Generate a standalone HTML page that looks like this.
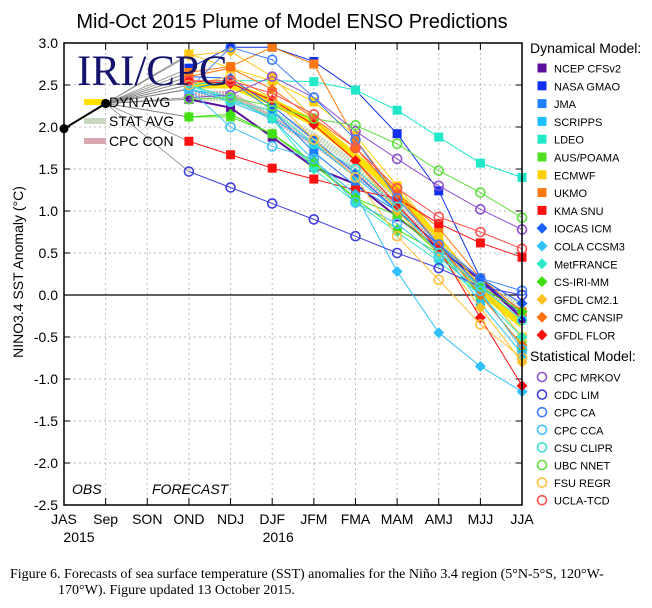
<!DOCTYPE html>
<html><head><meta charset="utf-8"><style>
body{margin:0;background:#fff;width:652px;height:608px;overflow:hidden}
svg{display:block}
text{font-family:"Liberation Sans",sans-serif}
</style></head><body>
<svg id="s" width="652" height="608" xmlns="http://www.w3.org/2000/svg">
<text x="292" y="28" font-size="20" text-anchor="middle">Mid-Oct 2015 Plume of Model ENSO Predictions</text>
<g id="grid"></g>
<g id="lines"></g>
<text x="77" y="85" font-size="43" fill="#14146e" style="font-family:'Liberation Serif',serif">IRI/CPC</text>
<g id="ileg"></g>
<g id="obs"></g>
<rect x="64" y="43" width="458" height="462" fill="none" stroke="#000" stroke-width="1.5"/>
<text x="72" y="494" font-size="14" font-style="italic">OBS</text>
<text x="152" y="494" font-size="14" font-style="italic">FORECAST</text>
<text transform="translate(23,272) rotate(-90)" font-size="14" text-anchor="middle">NINO3.4 SST Anomaly (°C)</text>
<g id="leg"></g>
<text x="10" y="578" font-size="14" style="font-family:'Liberation Serif',serif">Figure 6. Forecasts of sea surface temperature (SST) anomalies for the Niño 3.4 region (5°N-5°S, 120°W-</text>
<text x="58" y="594" font-size="14" style="font-family:'Liberation Serif',serif">170°W). Figure updated 13 October 2015.</text>
</svg>
<script>
const NS="http://www.w3.org/2000/svg";
function el(p,t,a,txt){const e=document.createElementNS(NS,t);for(const k in a)e.setAttribute(k,a[k]);if(txt!==undefined)e.textContent=txt;document.getElementById(p).appendChild(e);return e;}
const X=i=>64+41.64*i, Y=v=>295-84*v;
for(let i=1;i<11;i++){el("grid","line",{x1:X(i),x2:X(i),y1:43,y2:505,stroke:"#bbb","stroke-dasharray":"2,3"});}
for(let v=-2.5;v<=3.0;v+=0.5){const y=Y(v);
 if(Math.abs(v)>1e-6&&v>-2.4&&v<2.9)el("grid","line",{x1:64,x2:522,y1:y,y2:y,stroke:"#bbb","stroke-dasharray":"2,3"});
 el("grid","line",{x1:64,x2:70,y1:y,y2:y,stroke:"#000"});el("grid","line",{x1:516,x2:522,y1:y,y2:y,stroke:"#000"});
 el("grid","text",{x:58,y:y+5,"font-size":14,"text-anchor":"end"},(v<0?"-":"")+Math.abs(v).toFixed(1));}
el("grid","line",{x1:64,x2:522,y1:Y(0),y2:Y(0),stroke:"#000","stroke-width":1.3});
const mons=["JAS","Sep","SON","OND","NDJ","DJF","JFM","FMA","MAM","AMJ","MJJ","JJA"];
mons.forEach((m,i)=>{el("grid","line",{x1:X(i),x2:X(i),y1:43,y2:50,stroke:"#000"});el("grid","line",{x1:X(i),x2:X(i),y1:498,y2:505,stroke:"#000"});
 el("grid","text",{x:X(i),y:524,"font-size":14,"text-anchor":"middle"},m);});
el("grid","text",{x:X(0)+15,y:542,"font-size":14,"text-anchor":"middle"},"2015");
el("grid","text",{x:X(5)+6,y:542,"font-size":14,"text-anchor":"middle"},"2016");
const S=[
["NCEP CFSv2","#5b0f9e","s",[2.33,2.23,1.88,1.52,1.32,0.93,0.55,0.18,-0.28],2],
["NASA GMAO","#1030f0","s",[2.7,2.95,2.95,2.78,2.44,1.92,1.24,0.2,-0.25]],
["JMA","#1e7fff","s",[2.45,2.55,2.2,1.7,1.3,1.0,0.6,0.1,-0.5]],
["SCRIPPS","#20c0ff","s",[2.45,2.35,2.1,1.8,1.4,1.0,0.6,-0.1,-0.7]],
["LDEO","#20e8c8","s",[2.5,2.55,2.55,2.54,2.44,2.2,1.88,1.57,1.4]],
["AUS/POAMA","#50e020","s",[2.12,2.12,1.92,1.55,1.15,0.95,0.5,0.0,-0.6]],
["ECMWF","#ffd000","s",[2.87,2.7,2.55,2.3,1.9,1.3,0.7,0.1,-0.5]],
["UKMO","#ff7a10","s",[2.65,2.72,2.95,2.75,1.85,1.2,0.8,0.2,-0.2]],
["KMA SNU","#ff1010","s",[1.83,1.67,1.51,1.38,1.25,1.15,0.85,0.62,0.45]],
["IOCAS ICM","#1a60ff","d",[2.6,2.58,2.25,1.85,1.45,1.0,0.6,0.2,-0.1]],
["COLA CCSM3","#30c0ff","d",[2.45,2.3,2.1,1.6,1.2,0.28,-0.45,-0.85,-1.15]],
["MetFRANCE","#30e8c8","d",[2.5,2.35,2.1,1.5,1.1,0.75,0.4,0.0,-0.5]],
["CS-IRI-MM","#40e010","d",[2.12,2.15,1.92,1.58,1.15,0.78,0.5,0.1,-0.2]],
["GFDL CM2.1","#ffc020","d",[2.85,2.9,2.6,2.1,1.6,1.0,0.5,-0.15,-0.8]],
["CMC CANSIP","#ff7010","d",[2.6,2.7,2.45,2.1,1.75,1.2,0.6,0.0,-0.6]],
["GFDL FLOR","#ff1010","d",[2.55,2.52,2.32,2.03,1.6,1.07,0.55,-0.27,-1.08]],
["CPC MRKOV","#9050d0","c",[2.35,2.38,2.6,2.35,1.95,1.62,1.3,1.02,0.78]],
["CDC LIM","#4040e0","c",[1.47,1.28,1.09,0.9,0.7,0.5,0.32,0.1,0.0]],
["CPC CA","#4080ff","c",[2.45,2.95,2.8,2.35,1.85,1.15,0.6,0.2,0.05]],
["CPC CCA","#40c0ff","c",[2.45,2.0,1.77,1.62,1.1,0.85,0.45,0.05,-0.65]],
["CSU CLIPR","#40e0d0","c",[2.5,2.3,2.2,1.8,1.5,1.05,0.5,0.1,-0.3]],
["UBC NNET","#60e040","c",[2.33,2.35,2.25,2.1,2.02,1.8,1.48,1.22,0.92]],
["FSU REGR","#ffc040","c",[2.5,2.6,2.35,1.85,1.4,0.7,0.18,-0.35,-0.75]],
["UCLA-TCD","#ff5050","c",[2.55,2.55,2.4,2.15,1.75,1.27,0.93,0.75,0.55]]];
const pts=a=>a.map((v,k)=>X(k+3)+","+Y(v)).join(" ");
S.forEach(s=>el("lines","line",{x1:X(1),y1:Y(2.28),x2:X(3),y2:Y(s[3][0]),stroke:"#888","stroke-width":0.8}));
el("lines","polyline",{points:pts([2.5,2.5,2.3,2.05,1.65,1.2,0.65,0.05,-0.35]),fill:"none",stroke:"#ffe000","stroke-width":7});
el("lines","polyline",{points:pts([2.35,2.35,2.15,1.9,1.55,1.1,0.6,0.15,-0.15]),fill:"none",stroke:"#c8d8c0","stroke-width":7,"stroke-dasharray":"2,1"});
el("lines","polyline",{points:pts([2.4,2.4,2.1,1.8,1.45,1.05,0.55,0.1,-0.2]),fill:"none",stroke:"#d8a8b0","stroke-width":5,"stroke-dasharray":"2,1"});
function mark(g,t,x,y,c){
 if(t=="s")el(g,"rect",{x:x-4.5,y:y-4.5,width:9,height:9,fill:c});
 else if(t=="d")el(g,"polygon",{points:`${x},${y-5.5} ${x+5.5},${y} ${x},${y+5.5} ${x-5.5},${y}`,fill:c});
 else el(g,"circle",{cx:x,cy:y,r:4.5,fill:"none",stroke:c,"stroke-width":1.6});}
S.forEach(s=>{el("lines","polyline",{points:pts(s[3]),fill:"none",stroke:s[1],"stroke-width":s[4]||1});
 s[3].forEach((v,k)=>mark("lines",s[2],X(k+3),Y(v),s[1]));});
el("obs","line",{x1:X(0),y1:Y(1.98),x2:X(1),y2:Y(2.28),stroke:"#000","stroke-width":2});
el("obs","circle",{cx:X(0),cy:Y(1.98),r:4.5});el("obs","circle",{cx:X(1),cy:Y(2.28),r:4.5});
[["DYN AVG","#ffe000",102],["STAT AVG","#c8d8c0",121],["CPC CON","#d8a8b0",141]].forEach(l=>{
 el("ileg","line",{x1:84,x2:106,y1:l[2],y2:l[2],stroke:l[1],"stroke-width":6});
 el("ileg","text",{x:109,y:l[2]+5,"font-size":14},l[0]);});
el("ileg","circle",{cx:X(1),cy:Y(2.28),r:4.5});
el("leg","text",{x:530,y:53,"font-size":14},"Dynamical Model:");
S.slice(0,16).forEach((s,i)=>{const y=68+17.8*i;mark("leg",s[2],542,y,s[1]);el("leg","text",{x:554,y:y+4.5,"font-size":11},s[0]);});
el("leg","text",{x:530,y:361,"font-size":14},"Statistical Model:");
S.slice(16).forEach((s,i)=>{const y=377+17.6*i;mark("leg","c",542,y,s[1]);el("leg","text",{x:554,y:y+4.5,"font-size":11},s[0]);});
</script>
</body></html>
